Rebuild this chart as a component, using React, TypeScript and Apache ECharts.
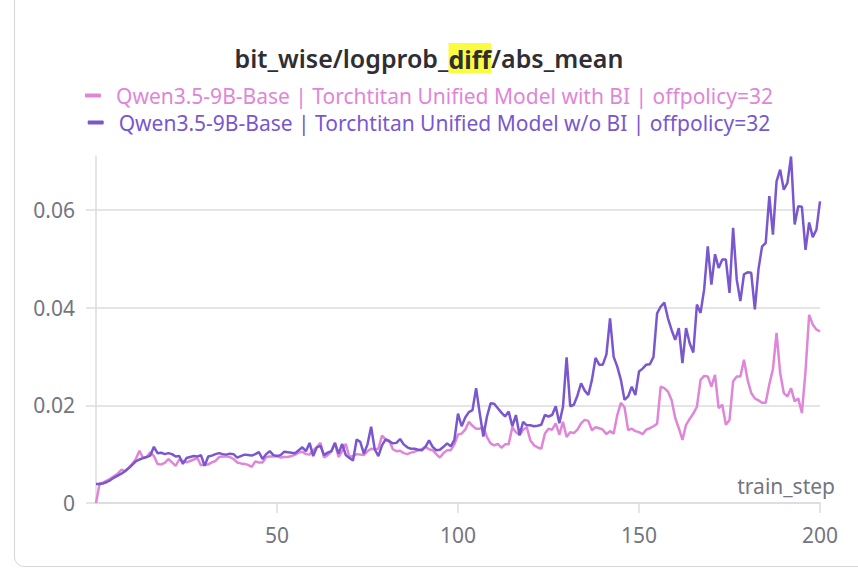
import { useEffect, useRef } from 'react';
import * as echarts from 'echarts';

// values are in thousandths (x 0.001), one per train_step starting at 0
const withBiMilli = [
  0, 4.0, 4.2, 4.6, 5.0, 5.5, 6.0, 6.8, 6.5, 7.2,
  8.0, 9.0, 10.7, 9.2, 9.4, 10.4, 9.6, 8.0, 7.9, 8.2,
  9.0, 8.3, 7.6, 8.9, 8.6, 8.3, 8.6, 8.9, 9.2, 7.7,
  7.9, 7.9, 8.3, 8.6, 9.4, 9.5, 9.5, 9.4, 9.0, 8.3,
  8.1, 8.0, 7.8, 7.4, 8.5, 8.3, 8.3, 9.4, 9.5, 9.5,
  9.6, 9.3, 9.4, 9.4, 9.6, 9.9, 10.3, 10.5, 10.0, 9.9,
  10.8, 11.4, 12.3, 9.3, 9.8, 10.5, 12.3, 9.4, 10.6, 12.1,
  9.4, 9.6, 10.0, 9.9, 9.8, 10.6, 11.1, 11.0, 11.1, 13.8,
  13.0, 12.8, 11.0, 10.6, 10.7, 10.2, 10.0, 10.3, 10.5, 10.8,
  11.0, 11.5, 11.0, 10.8, 10.0, 9.3, 10.2, 10.8, 10.8, 12.0,
  14.0, 14.2, 15.0, 16.6, 15.8, 15.2, 15.2, 15.5, 13.5, 12.2,
  11.8, 12.1, 11.3, 12.0, 12.0, 15.5, 14.5, 13.9, 15.0, 15.5,
  12.8, 11.8, 11.4, 11.1, 14.2, 15.2, 15.0, 16.3, 14.0, 16.6,
  13.5, 14.5, 14.3, 15.0, 16.3, 17.0, 16.8, 14.9, 15.5, 15.3,
  15.0, 14.1, 14.7, 14.2, 18.0, 20.5, 19.6, 14.9, 15.2, 14.7,
  14.5, 14.1, 15.0, 15.3, 15.7, 16.2, 23.8, 23.5, 22.8, 21.1,
  17.4, 15.3, 12.9, 16.0, 17.2, 18.3, 19.7, 25.2, 26.0, 25.9,
  23.8, 26.2, 19.4, 20.1, 16.0, 17.0, 24.9, 25.9, 25.9, 29.3,
  25.2, 22.5, 21.4, 21.0, 20.5, 20.5, 24.3, 27.4, 34.8, 26.6,
  22.5, 21.8, 23.5, 20.8, 21.4, 18.4, 27.0, 38.5, 36.5, 35.5,
  35.1,
];

const withoutBiMilli = [
  3.9, 3.9, 4.0, 4.3, 4.7, 5.2, 5.6, 6.0, 6.5, 7.1,
  7.8, 8.5, 8.9, 9.2, 9.4, 9.7, 11.5, 10.2, 10.3, 10.0,
  10.2, 10.0, 9.5, 9.6, 8.0, 9.2, 9.4, 9.6, 9.5, 9.8,
  7.6, 9.5, 9.7, 10.0, 10.2, 10.0, 9.9, 10.1, 10.0, 9.3,
  9.6, 9.9, 9.8, 9.7, 10.0, 10.4, 9.0, 10.0, 10.6, 9.8,
  9.6, 9.8, 10.5, 10.4, 10.3, 10.2, 10.8, 11.4, 10.6, 12.3,
  9.6, 11.4, 11.7, 9.8, 10.3, 10.6, 12.3, 10.1, 12.1, 9.8,
  9.2, 8.7, 13.0, 12.5, 10.1, 12.0, 15.6, 11.0, 9.6, 11.8,
  13.0, 12.6, 12.2, 12.3, 13.1, 12.0, 11.4, 11.1, 11.1, 10.9,
  10.8, 11.5, 12.8, 11.5, 10.8, 10.9, 11.5, 12.2, 11.6, 12.9,
  18.3, 15.7, 17.5, 18.6, 19.0, 23.5, 18.4, 13.6, 17.7, 20.4,
  20.3, 19.4, 18.5, 17.7, 18.7, 15.7, 18.0, 13.9, 16.6, 15.9,
  15.9, 15.7, 15.8, 16.0, 18.0, 17.7, 18.0, 19.8, 16.3, 19.7,
  29.8, 19.8, 20.1, 22.0, 24.5, 23.0, 22.1, 25.2, 29.7, 28.3,
  28.3, 30.4, 37.8, 29.9, 27.9, 25.2, 21.1, 21.8, 23.8, 22.1,
  26.9, 27.5, 28.3, 28.4, 29.9, 38.8, 40.2, 41.0, 37.8, 35.4,
  33.4, 35.8, 28.6, 35.8, 32.7, 30.8, 40.6, 38.9, 43.7, 52.5,
  44.7, 50.9, 48.1, 49.8, 49.8, 43.0, 56.3, 45.7, 41.3, 46.8,
  47.2, 47.1, 39.6, 47.8, 52.5, 53.2, 62.8, 54.9, 65.8, 68.2,
  64.1, 65.5, 70.9, 57.0, 60.7, 60.6, 51.8, 57.4, 54.4, 55.9,
  61.7,
];

const seriesNames = [
  'Qwen3.5-9B-Base | Torchtitan Unified Model with BI | offpolicy=32',
  'Qwen3.5-9B-Base | Torchtitan Unified Model w/o BI | offpolicy=32',
];
const seriesColors = ['#df86d9', '#7957cf'];
const yTicks = [0, 0.02, 0.04, 0.06];

const toPoints = (milli: number[]) => milli.map((v, step) => [step, v / 1000]);

const FONT = '"Noto Sans", sans-serif';
const GRAY = '#737580';
const LINE_GRAY = '#dcdcdc';

export default function App() {
  const chartRef = useRef<HTMLDivElement>(null);

  useEffect(() => {
    if (!chartRef.current) return;
    const chart = echarts.init(chartRef.current, undefined, { renderer: 'svg' });

    const legendFor = (i: number, top: number) => ({
      show: true,
      left: 'center',
      top,
      data: [{ name: seriesNames[i], textStyle: { color: seriesColors[i] } }],
      icon: 'roundRect',
      itemWidth: 16,
      itemHeight: 4,
      textStyle: { fontFamily: FONT, fontSize: 21, padding: [0, 0, 0, 10] },
      selectedMode: false,
    });

    chart.setOption({
      animation: false,
      textStyle: { fontFamily: FONT },
      title: {
        text: 'bit_wise/logprob_{hl|diff}/abs_mean',
        left: 'center',
        top: 38,
        textStyle: {
          fontFamily: FONT,
          fontSize: 25,
          fontWeight: 600,
          color: '#2e2e33',
          rich: {
            hl: {
              fontFamily: FONT,
              fontSize: 25,
              fontWeight: 'bold',
              color: '#2e2e33',
              backgroundColor: '#fbfb3f',
              padding: [3, 0, 2, 0],
            },
          },
        },
      },
      legend: [legendFor(0, 80), legendFor(1, 107)],
      grid: { left: 96, right: 38, top: 156, bottom: 69 },
      xAxis: {
        type: 'value',
        min: 0,
        max: 200,
        interval: 50,
        name: 'train_step',
        nameLocation: 'end',
        nameGap: 15,
        nameTextStyle: {
          fontFamily: FONT,
          fontSize: 21,
          color: GRAY,
          align: 'right',
          verticalAlign: 'bottom',
          padding: [0, 0, 7, 0],
        },
        axisLine: { show: true, lineStyle: { color: LINE_GRAY, width: 1.5 } },
        axisTick: { show: true, length: 10, lineStyle: { color: LINE_GRAY, width: 1.5 } },
        axisLabel: {
          showMinLabel: false,
          margin: 21,
          fontSize: 21,
          color: GRAY,
          fontFamily: FONT,
        },
        splitLine: { show: false },
      },
      yAxis: {
        type: 'value',
        min: 0,
        max: 0.071,
        axisLine: { show: true, lineStyle: { color: LINE_GRAY, width: 1.5 } },
        axisTick: {
          show: true,
          length: 10,
          customValues: yTicks,
          lineStyle: { color: LINE_GRAY, width: 1.5 },
        },
        axisLabel: {
          customValues: yTicks,
          margin: 21,
          fontSize: 21,
          color: GRAY,
          fontFamily: FONT,
          formatter: (v: number) => (v === 0 ? '0' : v.toFixed(2)),
        },
        splitLine: { show: true, lineStyle: { color: LINE_GRAY, width: 1.5 } },
      },
      series: [withBiMilli, withoutBiMilli].map((arr, i) => ({
        name: seriesNames[i],
        type: 'line',
        data: toPoints(arr),
        showSymbol: false,
        symbol: 'none',
        color: seriesColors[i],
        lineStyle: { width: 2.5, color: seriesColors[i] },
        z: 2 + i,
      })),
    });

    return () => chart.dispose();
  }, []);

  return (
    <div style={{ position: 'fixed', left: 0, top: 0, width: 858, height: 572, background: '#fff', overflow: 'hidden' }}>
      <div
        style={{
          position: 'absolute',
          left: 14,
          top: -20,
          width: 880,
          height: 587,
          border: '1.5px solid #d6d6db',
          borderRadius: 10,
          boxSizing: 'border-box',
        }}
      />
      <div ref={chartRef} style={{ position: 'absolute', left: 0, top: 0, width: 858, height: 572 }} />
    </div>
  );
}
